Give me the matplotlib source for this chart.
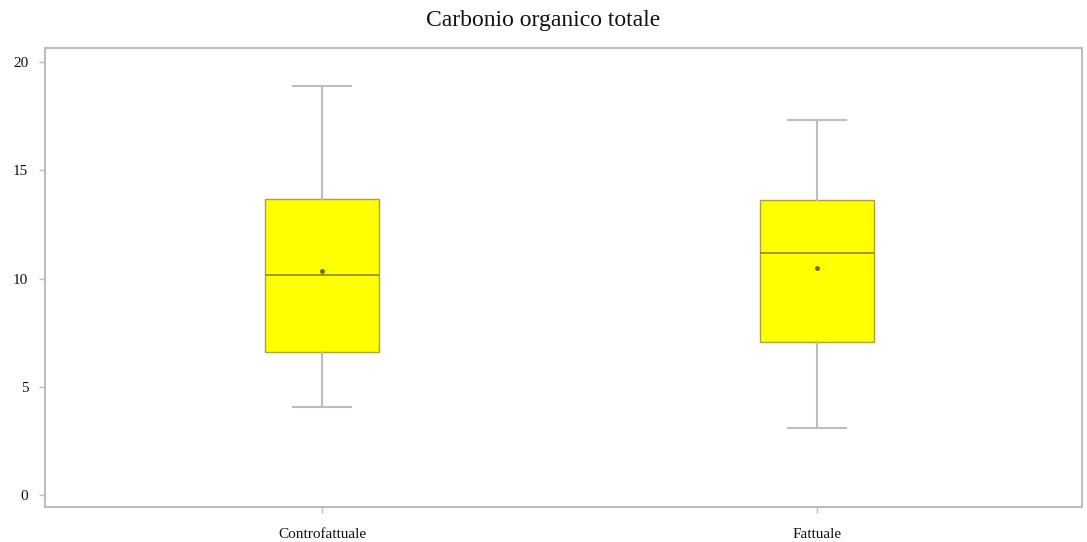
import matplotlib.pyplot as plt

# five-number summaries per group
groups = ['Controfattuale', 'Fattuale']
whisk_low = [4.06, 3.09]
q1 = [6.6, 7.07]
median = [10.16, 11.18]
q3 = [13.67, 13.63]
whisk_high = [18.9, 17.32]
mean = [10.35, 10.48]

plt.rcParams['font.family'] = ['Liberation Serif', 'DejaVu Serif']

fig = plt.figure(figsize=(10.87, 5.42), dpi=100)
ax = fig.add_axes([0.0414, 0.0646, 0.9536, 0.8468])

stats = []
for i, g in enumerate(groups):
    stats.append({'label': g, 'whislo': whisk_low[i], 'q1': q1[i], 'med': median[i],
                  'q3': q3[i], 'whishi': whisk_high[i], 'mean': mean[i], 'fliers': []})

ax.bxp(stats, positions=[1, 2], widths=0.23, patch_artist=True, showmeans=True,
       boxprops=dict(facecolor='#ffff00', edgecolor='#a6a632', linewidth=1.0),
       medianprops=dict(color='#8a8a1e', linewidth=1.2),
       whiskerprops=dict(color='#bdbdbd', linewidth=1.5),
       capprops=dict(color='#bdbdbd', linewidth=1.5),
       capwidths=0.117,
       meanprops=dict(marker='o', markersize=2.5, markerfacecolor='#6b6b10',
                      markeredgecolor='#6b6b10'))

ax.set_xlim(0.44, 2.535)
ax.set_ylim(-0.55, 20.65)
ax.set_yticks([0, 5, 10, 15, 20])
ax.set_xticks([1, 2])
ax.set_xticklabels(groups)

for s in ax.spines.values():
    s.set_color('#bdbdbd')
    s.set_linewidth(1.5)
ax.tick_params(colors='#bdbdbd', labelcolor='#111111', labelsize=11, length=4, width=1)
ax.tick_params(axis='x', pad=11)
ax.tick_params(axis='y', pad=8)

fig.text(0.5, 0.962, 'Carbonio organico totale', ha='center', va='center',
         fontsize=17, color='#111111')

fig.savefig('out.png', dpi=100)
